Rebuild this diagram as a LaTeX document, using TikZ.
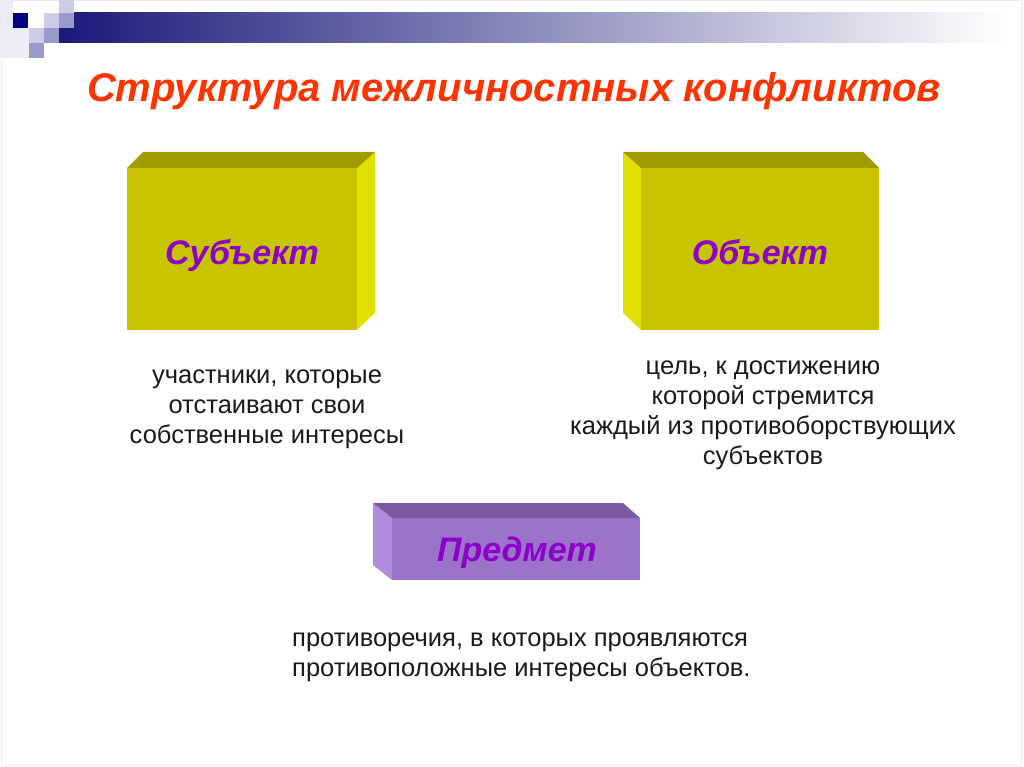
\documentclass[tikz,border=0pt]{standalone}
\usepackage{fontspec}
\setmainfont{Liberation Sans}
\definecolor{navybar}{RGB}{26,26,122}
\definecolor{midbar}{RGB}{164,164,188}
\definecolor{sqnavy}{RGB}{0,0,128}
\definecolor{sqmid}{RGB}{153,153,204}
\definecolor{sqlight}{RGB}{204,204,230}
\definecolor{sqfaint}{RGB}{236,236,246}
\definecolor{titlered}{RGB}{255,51,0}
\definecolor{yfront}{RGB}{200,196,0}
\definecolor{ytop}{RGB}{160,155,0}
\definecolor{yside}{RGB}{226,224,0}
\definecolor{pfront}{RGB}{155,115,200}
\definecolor{ptop}{RGB}{122,90,160}
\definecolor{pside}{RGB}{178,138,222}
\definecolor{labpurple}{RGB}{140,0,200}
\definecolor{bodytext}{RGB}{26,26,26}
\tikzset{
  frontface/.style={inner sep=0pt, outer sep=0pt},
  boxlabel/.style={inner sep=0pt, anchor=base, font=\fontsize{34}{38}\selectfont\bfseries\itshape, text=labpurple},
  desc/.style={align=center, inner sep=0pt, text=bodytext, font=\fontsize{25.5}{30}\selectfont},
}
\begin{document}
\begin{tikzpicture}[x=1pt,y=-1pt]
\useasboundingbox (0,0) rectangle (1024,767);
\fill[white] (0,0) rectangle (1024,767);
\draw[black!8, line width=1pt] (1,1) rectangle (1021,765);
% top decoration
\fill[sqfaint] (0,0) rectangle (13,58);
\fill[sqfaint] (13,28) rectangle (29,58);
\shade[left color=navybar, middle color=midbar, right color=white] (59,13) rectangle (1006,43);
\fill[sqnavy] (13,13) rectangle (28,28);
\fill[sqlight] (44,13) rectangle (59,28);
\fill[sqlight] (59,0) rectangle (74,13);
\fill[sqmid] (59,13) rectangle (74,28);
\fill[sqlight] (29,28) rectangle (44,43);
\fill[sqmid] (44,28) rectangle (59,43);
\fill[sqmid] (29,43) rectangle (44,58);
% title
\node[text=titlered, font=\fontsize{40}{44}\selectfont\bfseries\itshape] (title) at (514,91) {Структура межличностных конфликтов};
% Subject box
\node[frontface, fill=yfront, minimum width=230pt, minimum height=162pt] (subj) at (242,249) {};
\fill[yside] (subj.north east) -- ++(18,-16) -- ++(0,161) -- (subj.south east) -- cycle;
\fill[ytop] (subj.north west) -- ++(16,-16) -- ++(232,0) -- (subj.north east) -- cycle;
\node[boxlabel] (subjlab) at (242,264) {Субъект};
% Object box
\node[frontface, fill=yfront, minimum width=238pt, minimum height=162pt] (obj) at (760,249) {};
\fill[yside] (obj.north west) -- ++(-18,-16) -- ++(0,161) -- (obj.south west) -- cycle;
\fill[ytop] (obj.north west) -- ++(-18,-16) -- ++(240,0) -- (obj.north east) -- cycle;
\node[boxlabel] (objlab) at (760,264) {Объект};
% Predmet box
\node[frontface, fill=pfront, minimum width=248pt, minimum height=62pt] (pred) at (516,549) {};
\fill[pside] (pred.north west) -- ++(-19,-15) -- ++(0,62) -- (pred.south west) -- cycle;
\fill[ptop] (pred.north west) -- ++(-19,-15) -- ++(250,0) -- (pred.north east) -- cycle;
\node[boxlabel] (predlab) at (517,561) {Предмет};
% descriptions
\node[desc] (dsubj) at (267,409) {участники, которые\\отстаивают свои\\собственные интересы};
\node[desc] (dobj) at (763,415) {цель, к достижению\\которой стремится\\каждый из противоборствующих\\субъектов};
\node[desc, align=left, anchor=west] (dpred) at (292,657) {противоречия, в которых проявляются\\противоположные интересы объектов.};
\end{tikzpicture}
\end{document}
